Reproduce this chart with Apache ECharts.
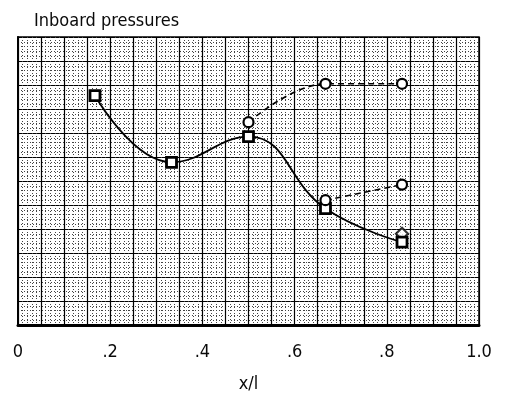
<!DOCTYPE html>
<html>
<head>
<meta charset="utf-8">
<script src="https://cdn.jsdelivr.net/npm/echarts@6/dist/echarts.min.js"></script>
<style>
html,body{margin:0;padding:0;background:#fff;}
#chart{width:508px;height:409px;}
</style>
</head>
<body>
<div id="chart"></div>
<script>
// x/l stations and pressure readings (arbitrary grid units, 12 rows)
const xTickLabels = ['0', '.2', '.4', '.6', '.8', '1.0'];
const xA = [0.167, 0.333, 0.5, 0.667, 0.833];
const yA = [9.56, 6.78, 7.85, 4.85, 3.45];
const xB = [0.5, 0.667, 0.833];
const yB = [8.45, 10.05, 10.05];
const xC = [0.667, 0.833];
const yC = [5.2, 5.85];
const xD = [0.833];
const yD = [3.8];

const font = '"DejaVu Sans Condensed", "Liberation Sans Narrow", sans-serif';
function pairs(xs, ys){ return xs.map((x,i)=>[x, ys[i]]); }

const chart = echarts.init(document.getElementById('chart'));
chart.setOption({
  animation: false,
  backgroundColor: '#fff',
  title: {
    text: 'Inboard pressures',
    left: 29, top: 7,
    textStyle: {fontFamily: font, fontSize: 18, fontWeight: 'normal', color: '#0a0a0a'}
  },
  grid: {left: 18, right: 29, top: 37, bottom: 84, show: true, borderColor: '#000', borderWidth: 1.5},
  xAxis: {
    type: 'value', min: 0, max: 1, interval: 0.05,
    name: 'x/l', nameLocation: 'middle', nameGap: 50,
    nameTextStyle: {fontFamily: font, fontSize: 18, color: '#0a0a0a'},
    axisLine: {show: true, lineStyle: {color: '#000', width: 3}},
    axisTick: {show: false},
    axisLabel: {
      margin: 18, fontFamily: font, fontSize: 18, color: '#0a0a0a',
      formatter: function(v){
        const k = Math.round(v * 20);
        if (k % 4 !== 0) return '';
        return xTickLabels[k / 4];
      }
    },
    splitLine: {show: true, lineStyle: {color: '#000', width: 1.2}},
    minorTick: {show: false, splitNumber: 5},
    minorSplitLine: {show: true, lineStyle: {color: '#444', width: 1, type: [1, 2]}}
  },
  yAxis: {
    type: 'value', min: 0, max: 12, interval: 1,
    axisLine: {show: true, lineStyle: {color: '#000', width: 2}},
    axisTick: {show: false},
    axisLabel: {show: false},
    splitLine: {show: true, lineStyle: {color: '#000', width: 1.2}},
    minorTick: {show: false, splitNumber: 5},
    minorSplitLine: {show: true, lineStyle: {color: '#444', width: 1, type: [1, 2]}}
  },
  series: [
    {
      type: 'line', data: pairs(xA, yA), smooth: 0.45,
      symbol: 'rect', symbolSize: 10,
      lineStyle: {color: '#000', width: 1.8},
      itemStyle: {color: '#fff', borderColor: '#000', borderWidth: 2.8}
    },
    {
      type: 'line', data: pairs(xB, yB), smooth: 0.4,
      symbol: 'circle', symbolSize: 10,
      lineStyle: {color: '#000', width: 1.6, type: [6, 4]},
      itemStyle: {color: '#fff', borderColor: '#000', borderWidth: 2.2}
    },
    {
      type: 'line', data: pairs(xC, yC),
      symbol: 'circle', symbolSize: 10,
      lineStyle: {color: '#000', width: 1.6, type: [6, 4]},
      itemStyle: {color: '#fff', borderColor: '#000', borderWidth: 2.2}
    },
    {
      type: 'scatter', data: pairs(xD, yD),
      symbol: 'diamond', symbolSize: 12,
      itemStyle: {color: '#fff', borderColor: '#000', borderWidth: 2.2}
    }
  ]
});
</script>
</body>
</html>
